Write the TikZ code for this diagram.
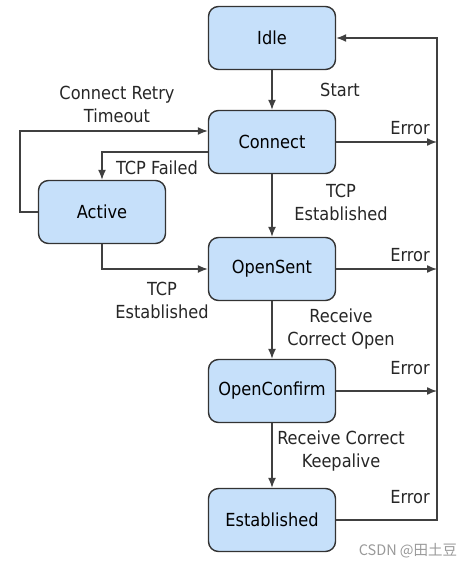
\documentclass[tikz,border=0pt]{standalone}
\usepackage{fontspec}
\setmainfont{DejaVu Sans Condensed}
\newfontfamily\cjkfont{Noto Sans CJK SC}
\usetikzlibrary{arrows.meta}
\definecolor{boxblue}{HTML}{C6E0FA}

\begin{document}
\begin{tikzpicture}[x=1pt,y=-1pt,
    state/.style={draw=black!80, line width=1.4pt, fill=boxblue, rounded corners=10pt,
      minimum width=127pt, minimum height=63pt, font=\fontsize{18}{22}\selectfont},
    lbl/.style={font=\fontsize{18}{23}\selectfont, align=center, text=black!85},
    conn/.style={line width=1.4pt, draw=black!75, -{Latex[length=10pt,width=8pt]}}]
    \def \cx {272}
    \def \errx {437}
    \useasboundingbox (0,0) rectangle (474,568);
    \coordinate (bus) at (\errx,0);
    % states
    \node[state] (idle) at (\cx,38) {Idle};
    \node[state] (connect) at (\cx,142) {Connect};
    \node[state] (active) at (102,212) {Active};
    \node[state] (opensent) at (\cx,269) {OpenSent};
    \node[state] (openconfirm) at (\cx,391) {OpenConfirm};
    \node[state] (established) at (\cx,520) {Established};
    % main column
    \draw[conn] (idle) -- (connect);
    \draw[conn] (connect) -- (opensent);
    \draw[conn] (opensent) -- (openconfirm);
    \draw[conn] (openconfirm) -- (established);
    % errors go back to idle
    \foreach \s in {connect,opensent,openconfirm}
    {
      \draw[conn] (\s.east) -- (\s.east -| bus);
    }
    \draw[conn] (established.east) -| (bus |- idle.east) -- (idle.east);
    % active loop
    \draw[conn] (active.west) -- ++(-18,0) |- ([yshift=11pt]connect.west);
    \draw[conn] ([yshift=-10pt]connect.west) -| (active.north);
    \draw[conn] (active.south) |- (opensent.west);
    % labels
    \node[lbl] (start) at (340,90) {Start};
    \node[lbl] (err1) at (410,128) {Error};
    \node[lbl] (err2) at (410,255) {Error};
    \node[lbl] (err3) at (410,368) {Error};
    \node[lbl] (err4) at (410,497) {Error};
    \node[lbl] (retry) at (117,104) {Connect Retry\\Timeout};
    \node[lbl] (failed) at (157,168) {TCP Failed};
    \node[lbl] (tcpest1) at (341,202) {TCP\\Established};
    \node[lbl] (tcpest2) at (162,300) {TCP\\Established};
    \node[lbl] (rcvopen) at (341,329) {Receive\\Correct Open};
    \node[lbl] (rcvkeep) at (341,451) {Receive Correct\\Keepalive};
    \node[font=\cjkfont\fontsize{14.5}{17}\selectfont, text=black!40] (mark) at (408,551) {CSDN @田土豆};
\end{tikzpicture}
\end{document}
